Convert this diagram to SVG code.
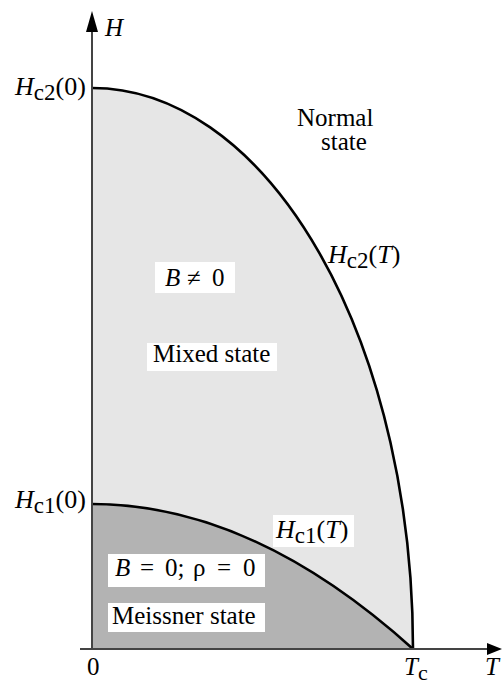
<svg xmlns="http://www.w3.org/2000/svg" width="502" height="684" viewBox="0 0 502 684">
<style>
  text { font-family: 'Liberation Serif', 'Times New Roman', 'DejaVu Serif', serif; font-size: 25px; fill: #000; }
  .i { font-style: italic; }
  .n { font-style: normal; }
  .hl { font-size: 26px; }
  .sub { font-size: 23px; font-style: normal; }
  .box { fill: #fff; }
  .curve { fill: none; stroke: #000; stroke-width: 2.6; }
  .axis { stroke: #444; stroke-width: 2; fill: none; }
  .head { fill: #000; }
</style>
<rect width="502" height="684" fill="#fff"/>
<g id="mixed-region">
  <path d="M92,88 A321,561 0 0 1 413,649 L92,649 Z" fill="#e6e6e6"/>
</g>
<g id="meissner-region">
  <path d="M92,504 Q252.5,504 413,649 L92,649 Z" fill="#b3b3b3"/>
</g>
<g id="connectors">
  <path id="hc2-curve" class="curve" d="M92,88 A321,561 0 0 1 413,649"/>
  <path id="hc1-curve" class="curve" d="M92,504 Q252.5,504 413,649"/>
  <line class="axis" x1="92" y1="649" x2="92" y2="26"/>
  <polygon class="head" points="92,11 86,32 98,32"/>
  <line class="axis" x1="80" y1="649" x2="490" y2="649"/>
  <polygon class="head" points="502,649 487,643 487,655"/>
</g>
<g id="axis-labels">
  <text class="i" x="105" y="36">H</text>
  <text class="i" x="485" y="675">T</text>
  <text x="87" y="675">0</text>
  <text class="i" x="404" y="675">T<tspan font-size="22px" class="n" dy="5">c</tspan></text>
  <text class="i hl" x="15" y="95">H<tspan class="sub" dy="5">c2</tspan><tspan class="n" dy="-5">(0)</tspan></text>
  <text class="i hl" x="15" y="508">H<tspan class="sub" dy="5">c1</tspan><tspan class="n" dy="-5">(0)</tspan></text>
</g>
<g id="normal-state">
  <text x="297" y="126">Normal</text>
  <text x="321" y="150">state</text>
</g>
<g id="hc2-label">
  <text class="i hl" x="328" y="263">H<tspan class="sub" dy="5">c2</tspan><tspan class="n" dy="-5">(</tspan>T<tspan class="n">)</tspan></text>
</g>
<g id="mixed-state">
  <rect class="box" x="155" y="262" width="80" height="31"/>
  <text y="286"><tspan class="i" x="165">B</tspan><tspan x="187">≠</tspan><tspan x="212">0</tspan></text>
  <rect class="box" x="147" y="343" width="130" height="28"/>
  <text x="153" y="362">Mixed state</text>
</g>
<g id="hc1-label">
  <rect class="box" x="273" y="515" width="81" height="32"/>
  <text class="i hl" x="276" y="538">H<tspan class="sub" dy="5">c1</tspan><tspan class="n" dy="-5">(</tspan>T<tspan class="n">)</tspan></text>
</g>
<g id="meissner-state">
  <rect class="box" x="108" y="554" width="157" height="33"/>
  <text y="576"><tspan class="i" x="115">B</tspan><tspan x="140">=</tspan><tspan x="165">0;</tspan><tspan x="193">ρ</tspan><tspan x="217">=</tspan><tspan x="243">0</tspan></text>
  <rect class="box" x="108" y="603" width="157" height="29"/>
  <text x="112" y="624">Meissner state</text>
</g>
</svg>
